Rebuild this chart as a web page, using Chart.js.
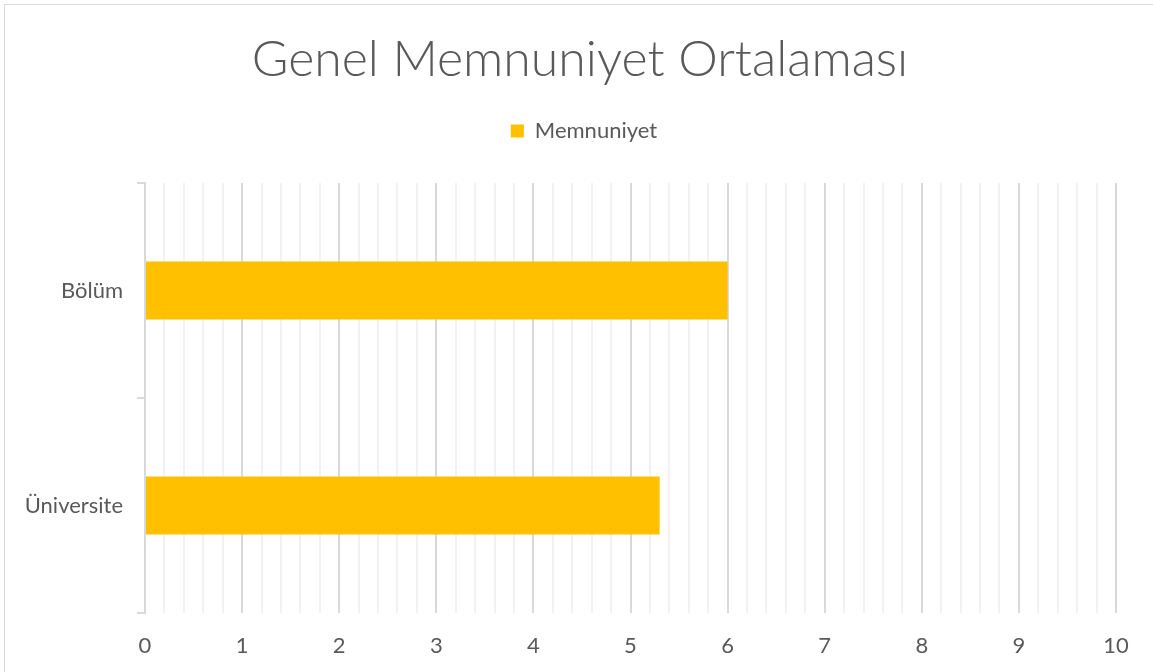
<!DOCTYPE html>
<html>
<head>
<meta charset="utf-8">
<script src="https://cdn.jsdelivr.net/npm/chart.js@4"></script>
<style>
    body { margin: 0; background: #fff; }
    #frame { position: absolute; left: 4px; top: 4px; width: 1200px; height: 720px; border: 1px solid #d9d9d9; }
    #wrap { position: absolute; left: 0; top: 0; width: 1153px; height: 672px; }
</style>
</head>
<body>
<div id="frame"></div>
<div id="wrap"><canvas id="chart"></canvas></div>
<script>
const categories = ['Bölüm', 'Üniversite'];
const memnuniyet = [6, 5.3];
const seriesName = 'Memnuniyet';
const chartTitle = 'Genel Memnuniyet Ortalaması';
const xMin = 0;
const xMax = 10;
const minorStep = 0.2;

const textColor = '#595959';
const barColor = '#FFC000';

function isWhole(v) {
    return Math.abs(v - Math.round(v)) < 1e-6;
}

// the legend box is stretched so the plot starts lower, like the excel chart
// and title + legend are centred on the whole frame, not on the padded area
const headerLayout = {
    id: 'headerLayout',
    beforeLayout(chart) {
        const legend = chart.legend;
        if (!legend || legend._patched) return;
        const fit = legend.fit.bind(legend);
        legend.fit = function () {
            fit();
            this.height = 98;
        };
        legend._patched = true;
    },
    afterLayout(chart) {
        if (chart.titleBlock) {
            chart.titleBlock.left += 20;
            chart.titleBlock.right += 20;
        }
        if (chart.legend) {
            chart.legend.left += 24;
            chart.legend.right += 24;
        }
    }
};

const ctx = document.getElementById('chart').getContext('2d');
new Chart(ctx, {
    type: 'bar',
    data: {
        labels: categories,
        datasets: [{
            label: seriesName,
            data: memnuniyet,
            backgroundColor: barColor,
            borderWidth: 0,
            barPercentage: 0.27,
            categoryPercentage: 1
        }]
    },
    options: {
        indexAxis: 'y',
        responsive: true,
        maintainAspectRatio: false,
        animation: false,
        layout: { padding: { left: 4, right: 37, top: 0, bottom: 0 } },
        plugins: {
            title: {
                display: true,
                text: chartTitle,
                color: textColor,
                font: { family: 'Lato', size: 50, weight: '300', lineHeight: 1 },
                padding: { top: 35, bottom: 0 }
            },
            legend: {
                position: 'top',
                labels: {
                    color: textColor,
                    font: { family: 'Lato', size: 22 },
                    boxWidth: 13,
                    boxHeight: 13,
                    padding: 35
                }
            },
            tooltip: { enabled: false }
        },
        scales: {
            x: {
                min: xMin,
                max: xMax,
                afterFit: (scale) => { scale.height = 59; },
                border: { display: false },
                grid: {
                    drawTicks: false,
                    color: (c) => isWhole(c.tick.value) ? '#d9d9d9' : '#f2f2f2',
                    lineWidth: 2
                },
                ticks: {
                    stepSize: minorStep,
                    maxTicksLimit: 100,
                    autoSkip: false,
                    maxRotation: 0,
                    padding: 20,
                    color: textColor,
                    font: { family: 'Lato', size: 22 },
                    callback: (v) => isWhole(v) ? Math.round(v) : ''
                }
            },
            y: {
                afterFit: (scale) => { scale.width = 141; },
                border: { display: true, color: '#d9d9d9', width: 2 },
                grid: {
                    offset: true,
                    drawOnChartArea: false,
                    drawTicks: true,
                    tickLength: 8,
                    color: '#d9d9d9',
                    lineWidth: 2
                },
                ticks: {
                    padding: 14,
                    color: textColor,
                    font: { family: 'Lato', size: 22 }
                }
            }
        }
    },
    plugins: [headerLayout]
});
</script>
</body>
</html>
